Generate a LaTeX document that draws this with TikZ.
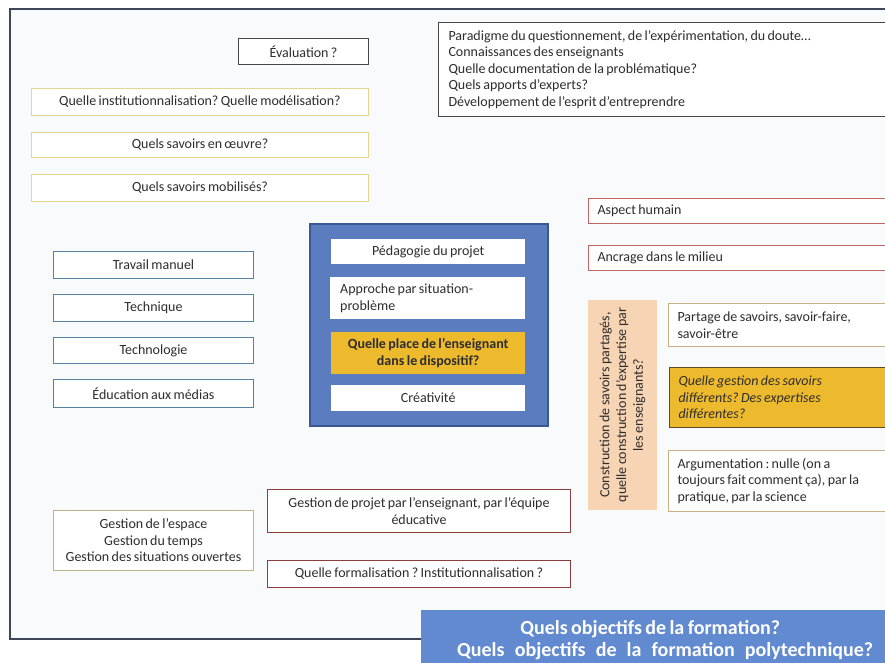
\documentclass[tikz,border=0pt]{standalone}
\usepackage{fontspec}
\setmainfont{Carlito}[WordSpace=0.75]
\frenchspacing
\definecolor{bgc}{RGB}{249,250,252}
\definecolor{txt}{RGB}{45,45,45}
\definecolor{framec}{RGB}{60,70,88}
\definecolor{grayb}{RGB}{70,70,70}
\definecolor{yelb}{RGB}{228,214,140}
\definecolor{redb}{RGB}{192,100,100}
\definecolor{blueb}{RGB}{84,130,160}
\definecolor{cfill}{RGB}{91,125,192}
\definecolor{cbord}{RGB}{60,88,148}
\definecolor{gold}{RGB}{238,186,45}
\definecolor{peach}{RGB}{247,212,180}
\definecolor{tanb}{RGB}{200,176,132}
\definecolor{darkb}{RGB}{95,75,35}
\definecolor{dredb}{RGB}{140,62,62}
\definecolor{oliveb}{RGB}{188,178,140}
\definecolor{objblue}{RGB}{98,138,208}
\newcommand\rbox[7]{\node[#6,anchor=north west,minimum width={(#4-#2)*1pt},minimum height={(#5-#3)*1pt}] (#1) at (#2,-#3) {#7};}
\begin{document}
\frenchspacing
\begin{tikzpicture}[x=1pt,y=1pt,
  every node/.style={font=\frenchspacing\fontsize{14}{16.5}\selectfont, text=txt, inner sep=0pt},
  frm/.style={draw=framec, line width=2pt},
  graybox/.style={draw=grayb, line width=1pt, fill=white},
  yelbox/.style={draw=yelb, line width=1pt, fill=white},
  redbox/.style={draw=redb, line width=1pt, fill=white},
  bluebox/.style={draw=blueb, line width=1pt, fill=white},
  tanbox/.style={draw=tanb, line width=1pt, fill=white},
  dredbox/.style={draw=dredb, line width=1pt, fill=white},
  olivebox/.style={draw=oliveb, line width=1pt, fill=white},
  inner/.style={fill=white},
  goldbox/.style={fill=gold},
  lft/.style={align=flush left, inner xsep=#1},
]
\useasboundingbox (0,0) rectangle (885,-663);
\clip (0,0) rectangle (885,-663);
\fill[white] (0,0) rectangle (885,-663);
\fill[bgc] (10,-9) rectangle (900,-639);
\draw[frm] (10,-9) rectangle (900,-639);

% top-left column
\rbox{eval}{238}{38}{368}{64}{graybox}{Évaluation ?}
\rbox{inst}{31}{88}{368}{115}{yelbox}{Quelle institutionnalisation? Quelle modélisation?}
\rbox{oeuvre}{31}{132}{368}{157}{yelbox}{Quels savoirs en œuvre?}
\rbox{mobil}{31}{174}{368}{201}{yelbox}{Quels savoirs mobilisés?}

% top-right
\node[graybox, lft=10pt, text width=430pt, anchor=north west, minimum height=94pt] (para) at (438,-22)
  {Paradigme du questionnement, de l’expérimentation, du doute…\\
   Connaissances des enseignants\\
   Quelle documentation de la problématique?\\
   Quels apports d’experts?\\
   Développement de l’esprit d’entreprendre};

% right red boxes
\node[redbox, lft=9pt, text width=300pt, anchor=north west, minimum height=25pt] (humain) at (588,-198) {Aspect humain};
\node[redbox, lft=9pt, text width=300pt, anchor=north west, minimum height=25pt] (ancrage) at (588,-245) {Ancrage dans le milieu};

% left blue boxes
\rbox{travail}{53}{251}{253}{278}{bluebox}{Travail manuel}
\rbox{techn}{53}{294}{253}{321}{bluebox}{Technique}
\rbox{techno}{53}{337}{253}{363}{bluebox}{Technologie}
\rbox{medias}{53}{379}{253}{407}{bluebox}{Éducation aux médias}

% central box
\rbox{central}{309}{223}{547}{425}{fill=cfill, draw=cbord, line width=1.5pt}{}
\rbox{pedago}{331}{239}{525}{264}{inner}{Pédagogie du projet}
\node[inner, lft=10pt, text width=175pt, anchor=north west, minimum height=42pt] (approche) at (330,-277)
  {Approche par situation-\\problème};
\rbox{place}{331}{332}{525}{374}{goldbox, align=center, font=\frenchspacing\bfseries\fontsize{14}{16.5}\selectfont}{Quelle place de l’enseignant\\dans le dispositif?}
\rbox{creat}{331}{385}{525}{411}{inner}{Créativité}

% construction block
\node[fill=peach, rotate=90, minimum width=210pt, minimum height=69pt, align=center,
  font=\frenchspacing\fontsize{14}{16.7}\selectfont] (constr) at (622.5,-405)
  {Construction de savoirs partagés,\\quelle construction d’expertise par\\les enseignants?};
\node[tanbox, lft=9pt, text width=210pt, anchor=north west, minimum height=43pt] (partage) at (668,-303)
  {Partage de savoirs, savoir-faire,\\savoir-être};
\node[fill=gold, draw=darkb, line width=1pt, lft=9pt, text width=210pt, anchor=north west, minimum height=60pt,
  font=\frenchspacing\itshape\fontsize{14}{16.5}\selectfont] (gestion) at (669,-367)
  {Quelle gestion des savoirs\\différents? Des expertises\\différentes?};
\node[tanbox, lft=9pt, text width=210pt, anchor=north west, minimum height=61pt] (argu) at (668,-450)
  {Argumentation : nulle (on a\\toujours fait comment ça), par la\\pratique, par la science};

% bottom
\rbox{espace}{53}{510}{253}{570}{olivebox, align=center}{Gestion de l’espace\\Gestion du temps\\Gestion des situations ouvertes}
\rbox{projet}{267}{489}{570}{532}{dredbox, align=center}{Gestion de projet par l’enseignant, par l’équipe\\éducative}
\rbox{formal}{267}{560}{570}{587}{dredbox}{Quelle formalisation ? Institutionnalisation ?}

\rbox{objectifs}{421}{610}{909}{670}{fill=objblue, align=center, text=white, font=\frenchspacing\bfseries\fontsize{20}{22}\selectfont}{Quels objectifs de la formation?\hspace*{30pt}\\\makebox[416pt][s]{Quels objectifs de la formation polytechnique?}}
\end{tikzpicture}
\end{document}
